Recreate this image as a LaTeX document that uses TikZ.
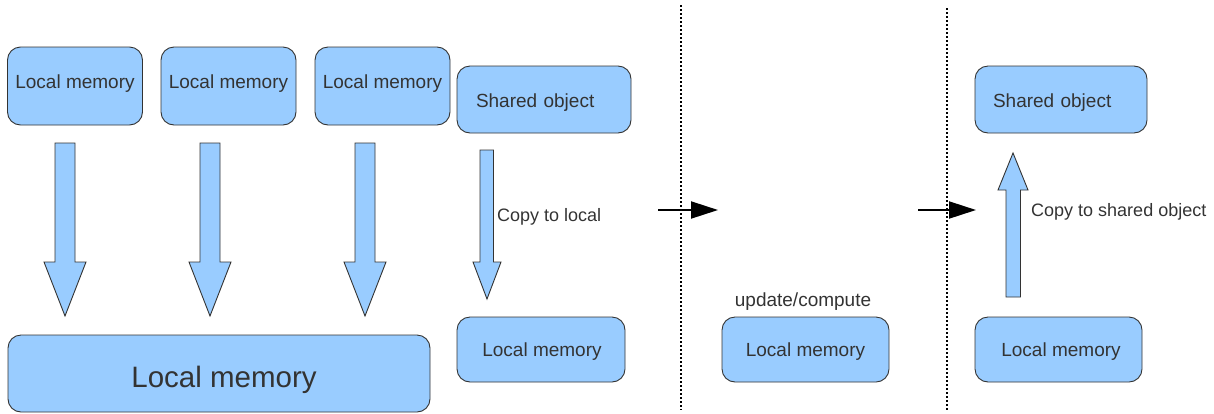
\documentclass[tikz,border=0pt]{standalone}
\usepackage{fontspec}
\setmainfont{Liberation Sans}
\usetikzlibrary{arrows.meta}
\definecolor{boxfill}{HTML}{99CCFF}
\definecolor{boxline}{HTML}{333333}
\definecolor{txt}{HTML}{333333}
% shift text (x right, y down) without changing its reported size
\newcommand{\mv}[3]{\hspace*{#1pt}\raisebox{-#2pt}[\height][\depth]{#3}}
\begin{document}
\begin{tikzpicture}[x=1pt,y=-1pt,
  box/.style={draw=boxline,fill=boxfill,line width=0.9pt,rounded corners=13pt,text=txt,
    font=\fontsize{19}{22}\selectfont,inner sep=0pt},
  lbl/.style={text=txt,font=\fontsize{18}{22}\selectfont,inner sep=0pt},
  blk/.style={draw=boxline,fill=boxfill,line width=0.9pt,line join=miter},
  flow/.style={line width=2pt,-{Triangle[length=27pt,width=17pt]}},
  sep/.style={line width=2pt,dash pattern=on 2pt off 2pt}]
\useasboundingbox (0,0) rectangle (1214,413);
% top boxes
\node[box,minimum width=135pt,minimum height=78pt] (lm1) at (75,86) {\mv{0}{-2}{Local memory}};
\node[box,minimum width=135pt,minimum height=78pt] (lm2) at (228.5,86) {\mv{0}{-2}{Local memory}};
\node[box,minimum width=135pt,minimum height=78pt] (lm3) at (382.5,86) {\mv{0}{-2}{Local memory}};
\node[box,minimum width=174pt,minimum height=67pt,text width=160pt,align=left] (so1) at (544,99.5) {\mv{12}{3}{Shared object}};
\node[box,minimum width=172pt,minimum height=67pt,text width=160pt,align=left] (so2) at (1061,99.5) {\mv{12}{3}{Shared object}};
% bottom boxes
\node[box,minimum width=422pt,minimum height=77pt,font=\fontsize{29.5}{32}\selectfont] (big) at (219,373.5) {\mv{10}{6}{Local memory}};
\node[box,minimum width=168pt,minimum height=65pt] (lm4) at (541,349.5) {\mv{2}{2}{Local memory}};
\node[box,minimum width=167pt,minimum height=65pt] (lm5) at (805.5,349.5) {\mv{0}{2}{Local memory}};
\node[box,minimum width=167pt,minimum height=65pt] (lm6) at (1058.5,349.5) {\mv{5}{2}{Local memory}};
% block arrows down
\foreach \c in {65,210,365}{
  \draw[blk] (\c-10,143) -- (\c+10,143) -- (\c+10,262) -- (\c+21,262) -- (\c,316)
    -- (\c-21,262) -- (\c-10,262) -- cycle;
}
% copy to local arrow
\draw[blk] (480,150) -- (493.5,150) -- (493.5,262) -- (501,262) -- (487,299)
  -- (473,262) -- (480,262) -- cycle;
\node[lbl,anchor=west] (c1) at (497,217) {Copy to local};
% copy to shared arrow
\draw[blk] (1006,297) -- (1020.5,297) -- (1020.5,190) -- (1028,190) -- (1013,153)
  -- (998,190) -- (1006,190) -- cycle;
\node[lbl,anchor=west] (c2) at (1031,212) {Copy to shared object};
% update label
\node[lbl,font=\fontsize{19}{22}\selectfont] (upd) at (803,302) {update/compute};
% separators
\coordinate (s1a) at (681,5); \coordinate (s1b) at (681,410);
\coordinate (s2a) at (947,8); \coordinate (s2b) at (947,410);
\draw[sep] (s1a) -- (s1b);
\draw[sep] (s2a) -- (s2b);
% flow arrows
\coordinate (f1a) at (658,210); \coordinate (f1b) at (718,210);
\coordinate (f2a) at (918,210); \coordinate (f2b) at (976,210);
\draw[flow] (f1a) -- (f1b);
\draw[flow] (f2a) -- (f2b);
\end{tikzpicture}
\end{document}
